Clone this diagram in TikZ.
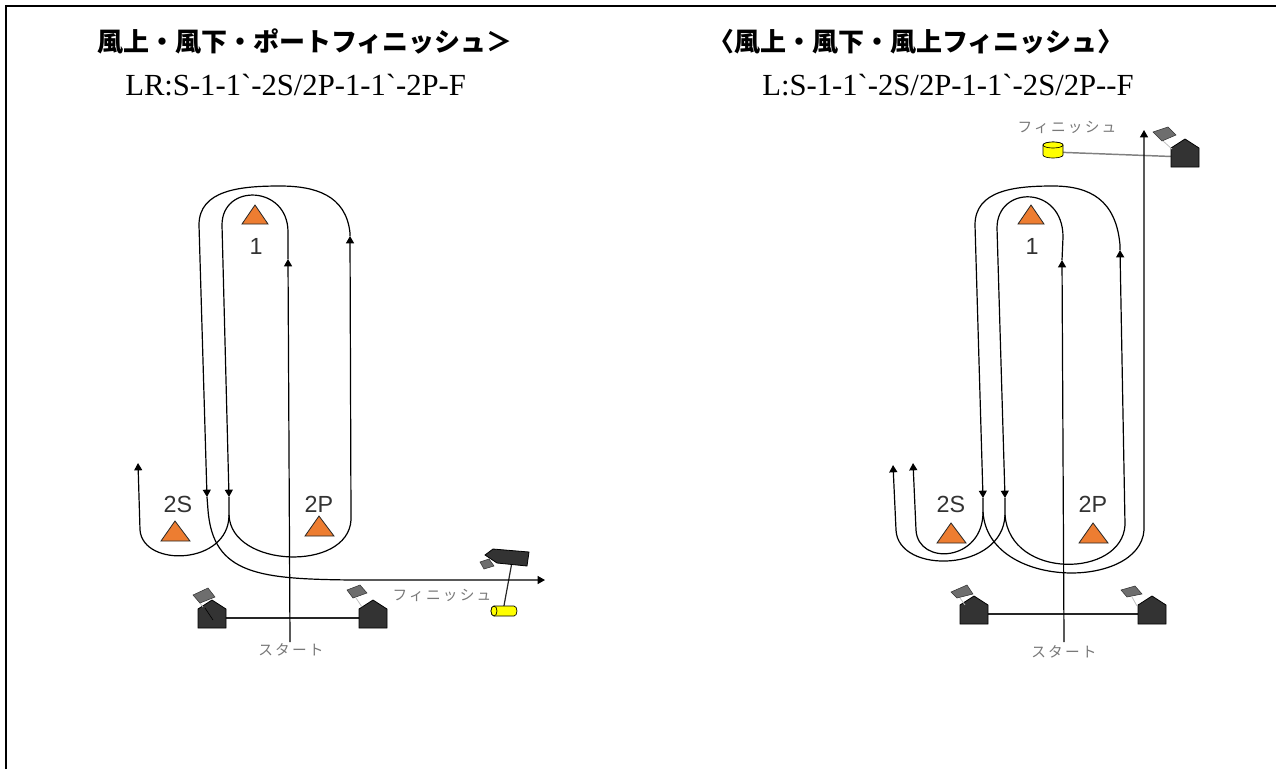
\documentclass[tikz,border=0pt]{standalone}
\usepackage{fontspec}
\usetikzlibrary{arrows.meta}
\newfontfamily\jpfont{Noto Sans CJK JP}
\newfontfamily\jpsmall[LetterSpace=15]{Noto Sans CJK JP}
\newfontfamily\codefont[Ligatures=TeXOff]{Liberation Serif}
\newfontfamily\markfont{Liberation Sans}
\definecolor{markorange}{RGB}{237,125,49}
\definecolor{boatgray}{RGB}{51,51,51}
\definecolor{flaggray}{RGB}{110,110,110}
\definecolor{labelgray}{RGB}{120,120,120}
\definecolor{buoyyellow}{RGB}{255,255,0}

\begin{document}
\begin{tikzpicture}[x=0.75pt,y=0.75pt,yscale=-1,xscale=1,
  course/.style={line width=0.9pt,black},
  arr/.style={-{Triangle[length=5.5pt,width=6pt]}},
  markbuoy/.style={fill=markorange,draw=black!85,line width=0.6pt},
  boatbody/.style={fill=boatgray,draw=black,line width=0.6pt},
  flagbox/.style={fill=flaggray,draw=boatgray,line width=0.4pt},
  pole/.style={draw=black!25,line width=0.6pt},
  boatline/.style={line width=0.9pt,black!85},
  yellowbuoy/.style={fill=buoyyellow,draw=black,line width=0.5pt},
  marklabel/.style={font=\markfont\fontsize{17.5pt}{17.5pt}\selectfont,text=boatgray,inner sep=0},
  smalllabel/.style={font=\jpsmall\fontsize{11pt}{11pt}\selectfont,text=labelgray,inner sep=0},
  titletext/.style={font=\jpfont\bfseries\fontsize{19.5pt}{19.5pt}\selectfont,inner sep=0},
  codeline/.style={font=\codefont\fontsize{23pt}{23pt}\selectfont,inner sep=0},
  pics/housebox/.style={code={
    \draw[boatbody] (-14,-10) -- (-14,9) -- (0,18) -- (14,9) -- (14,-10) -- cycle;}}
]
\useasboundingbox (0,0) rectangle (1276,769);

%Frame
\draw[line width=2.2pt] (6,769) -- (6,6) -- (1276,6);

% Text Node
\node[titletext,anchor=base west] (titleL) at (97,51) {風上・風下・ポートフィニッシュ＞};
\node[codeline,anchor=base west] (codeL) at (125,95) {LR:S-1-1`-2S/2P-1-1`-2P-F};
\node[titletext,anchor=base] (titleR) at (916,51) {〈風上・風下・風上フィニッシュ〉};
\node[codeline,anchor=base west] (codeR) at (762,95) {L:S-1-1`-2S/2P-1-1`-2S/2P--F};

%%%%%% left course
\coordinate (sbL) at (212,618);
\coordinate (sbR) at (373,618);
\coordinate (fbL) at (512,562);
\coordinate (fyL) at (503,611);

%Start and finish lines
\draw[boatline] (sbL) -- (sbR);
\draw[boatline] (fbL) -- (fyL);

%Curve Lines
\draw[course,arr] (290,642) -- (288,259);
\draw[course,arr] (288,259) -- (288,232) .. controls (288,185) and (222,183) .. (222,225) -- (229,497);
\draw[course,arr] (229,497) -- (229,515) .. controls (229,565) and (143,568) .. (140,530) -- (138,463);
\draw[course,arr] (229,515) .. controls (231,568) and (348,572) .. (351,520) -- (350,236);
\draw[course,arr] (350,236) -- (350,233) .. controls (346,195) and (315,186) .. (280,186) .. controls (240,186) and (199,190) .. (199,225) -- (207,497);
\draw[course,arr] (207,497) -- (208,510) .. controls (213,575) and (260,579) .. (353,580) -- (545,580);

%Shape: Boats
\pic at (sbL) {housebox};
\pic at (sbR) {housebox};
\draw[black,line width=0.5pt] (205,608) -- (213,620);
\draw[pole] (196,598) -- (203,607);
\draw[flagbox] (193,595) -- (208,588) -- (215,597) -- (200,603) -- cycle;
\draw[pole] (356,598) -- (362,607);
\draw[flagbox] (347,590) -- (360,585) -- (367,593) -- (353,598) -- cycle;
\draw[boatbody] (485,555) -- (493,549) -- (529,552) -- (527,566) -- (497,563) -- cycle;
\draw[flagbox] (480,562) -- (489,559) -- (494,566) -- (484,569) -- cycle;

%Shape: Finish buoy
\draw[yellowbuoy] (494,606) -- (514,606) arc[start angle=-90,end angle=90,x radius=3,y radius=5] -- (494,616) arc[start angle=90,end angle=270,x radius=3,y radius=5] -- cycle;
\draw[yellowbuoy] (494,611) ellipse [x radius=3,y radius=5];

%Shape: Triangle
\draw[markbuoy] (255,205) -- (268,224) -- (242,224) -- cycle;
\draw[markbuoy] (175,521) -- (190,541) -- (161,541) -- cycle;
\draw[markbuoy] (319,516) -- (334,536) -- (305,536) -- cycle;

% Text Node
\node[marklabel,anchor=base] (lab1L) at (256,254) {1};
\node[marklabel,anchor=base] (lab2SL) at (178,512) {2S};
\node[marklabel,anchor=base] (lab2PL) at (319,512) {2P};
\node[smalllabel] (startL) at (291,650) {スタート};
\node[smalllabel] (finishL) at (442,595) {フィニッシュ};

%%%%%% right course
\coordinate (sbL2) at (974,614);
\coordinate (sbR2) at (1152,614);
\coordinate (fbR2) at (1185,157);
\coordinate (fyR2) at (1053,152);

%Start and finish lines
\draw[boatline] (sbL2) -- (sbR2);
\draw[line width=1.1pt,black!50] (fyR2) -- (fbR2);

%Curve Lines
\draw[course,arr] (1064,642) -- (1062,260);
\draw[course,arr] (1062,260) -- (1063,237) .. controls (1063,185) and (997,185) .. (997,228) -- (1005,498);
\draw[course,arr] (1005,498) -- (1005,515) .. controls (1003,572) and (898,575) .. (896,530) -- (893,465);
\draw[course,arr] (1005,515) .. controls (1010,580) and (1122,578) .. (1125,525) -- (1120,250);
\draw[course,arr] (1120,250) -- (1120,245) .. controls (1116,200) and (1090,186) .. (1053,186) .. controls (1015,186) and (975,190) .. (975,225) -- (983,498);
\draw[course,arr] (983,498) -- (983,512) .. controls (983,562) and (918,566) .. (916,530) -- (913,463);
\draw[course,arr] (983,512) .. controls (988,590) and (1140,590) .. (1144,530) -- (1144,130);

%Shape: Boats
\pic at (sbL2) {housebox};
\pic at (sbR2) {housebox};
\pic at (fbR2) {housebox};
\draw[pole] (960,598) -- (965,605);
\draw[flagbox] (951,592) -- (967,585) -- (973,594) -- (957,598) -- cycle;
\draw[pole] (1132,597) -- (1137,606);
\draw[flagbox] (1121,590) -- (1135,586) -- (1142,594) -- (1127,597) -- cycle;
\draw[pole] (1163,141) -- (1172,149);
\draw[flagbox] (1153,132) -- (1168,127) -- (1176,135) -- (1162,141) -- cycle;

%Shape: Finish buoy
\draw[yellowbuoy] (1043,145) -- (1043,155) arc[start angle=180,end angle=0,x radius=10,y radius=3] -- (1063,145) arc[start angle=0,end angle=-180,x radius=10,y radius=3] -- cycle;
\draw[yellowbuoy] (1053,145) ellipse [x radius=10,y radius=3];

%Shape: Triangle
\draw[markbuoy] (1031,205) -- (1044,224) -- (1018,224) -- cycle;
\draw[markbuoy] (951,523) -- (966,543) -- (937,543) -- cycle;
\draw[markbuoy] (1093,523) -- (1108,543) -- (1079,543) -- cycle;

% Text Node
\node[marklabel,anchor=base] (lab1R) at (1032,254) {1};
\node[marklabel,anchor=base] (lab2SR) at (951,512) {2S};
\node[marklabel,anchor=base] (lab2PR) at (1093,512) {2P};
\node[smalllabel] (startR) at (1064,652) {スタート};
\node[smalllabel] (finishR) at (1067,127) {フィニッシュ};

\end{tikzpicture}
\end{document}
